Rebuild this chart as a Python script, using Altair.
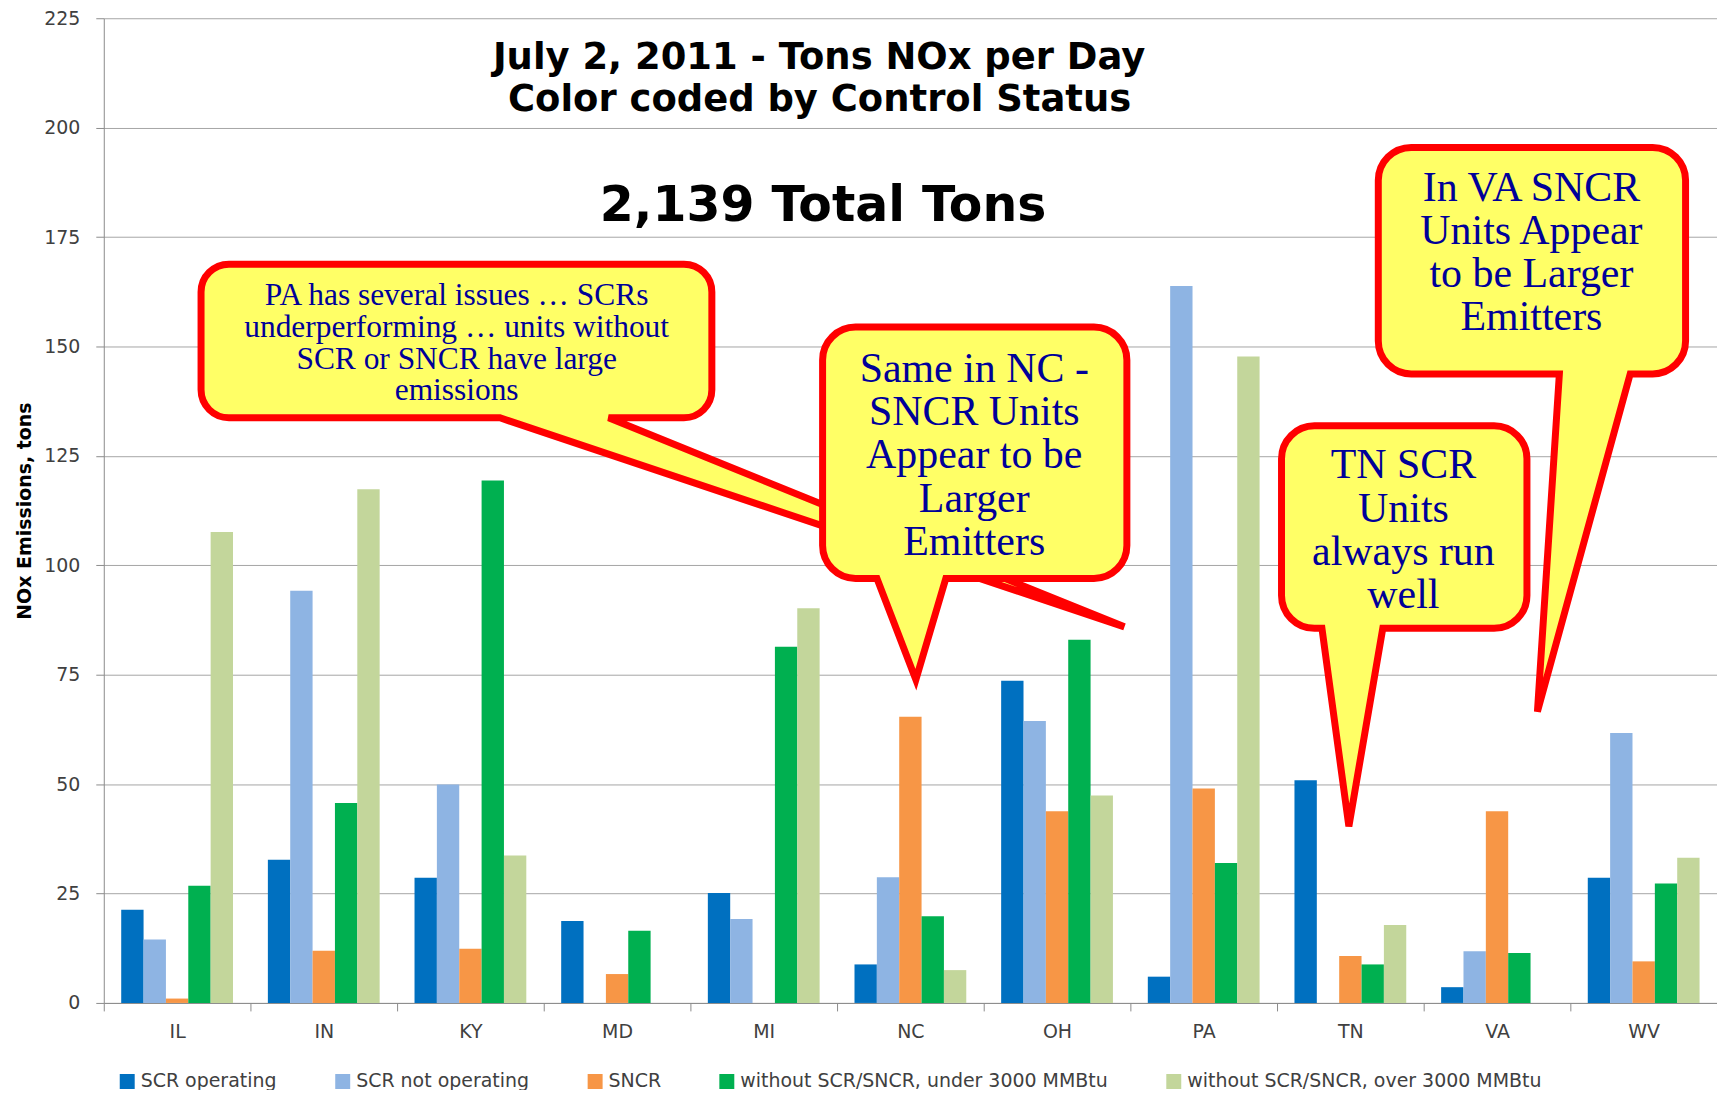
import altair as alt
import pandas as pd

# ---------------- data ----------------
states = ["IL", "IN", "KY", "MD", "MI", "NC", "OH", "PA", "TN", "VA", "WV"]
series = [
    "SCR operating",
    "SCR not operating",
    "SNCR",
    "without SCR/SNCR, under 3000 MMBtu",
    "without SCR/SNCR, over 3000 MMBtu",
]
colors = ["#0070C0", "#8EB4E3", "#F79646", "#00B050", "#C3D69B"]

scr_operating = [21.3, 32.7, 28.6, 18.7, 25.1, 8.8, 73.6, 6.0, 50.9, 3.6, 28.6]
scr_not_operating = [14.5, 94.2, 49.9, None, 19.2, 28.7, 64.4, 163.8, None, 11.8, 61.7]
sncr = [1.0, 11.9, 12.4, 6.6, None, 65.4, 43.8, 49.0, 10.7, 43.8, 9.5]
under_3000 = [26.8, 45.7, 119.4, 16.5, 81.4, 19.8, 83.0, 32.0, 8.8, 11.4, 27.3]
over_3000 = [107.6, 117.4, 33.7, None, 90.2, 7.5, 47.4, 147.7, 17.8, None, 33.2]

y_ticks = [0, 25, 50, 75, 100, 125, 150, 175, 200, 225]

title_lines = [
    "July 2, 2011 - Tons NOx per Day",
    "Color coded by Control Status",
    "2,139 Total Tons",
]

note_pa = ["PA has several issues \u2026 SCRs", "underperforming \u2026 units without",
           "SCR or SNCR have large", "emissions"]
note_nc = ["Same in NC -", "SNCR Units", "Appear to be", "Larger", "Emitters"]
note_tn = ["TN SCR", "Units", "always run", "well"]
note_va = ["In VA SNCR", "Units Appear", "to be Larger", "Emitters"]

# ---------------- table ----------------
rows = []
for s, vals in zip(series, [scr_operating, scr_not_operating, sncr, under_3000, over_3000]):
    for st, v in zip(states, vals):
        if v is not None:
            rows.append({"state": st, "series": s, "value": v})
df = pd.DataFrame(rows)

# ---------------- annotation layout (pixels in plot area) ----------------
def bubble(x0, y0, x1, y1, r, bl, br, tx, ty):
    k = 0.5523 * r
    f = lambda v: f"{v:.1f}"
    parts = [
        f"M {f(x0 + r)} {f(y0)}",
        f"L {f(x1 - r)} {f(y0)}",
        f"C {f(x1 - r + k)} {f(y0)} {f(x1)} {f(y0 + r - k)} {f(x1)} {f(y0 + r)}",
        f"L {f(x1)} {f(y1 - r)}",
        f"C {f(x1)} {f(y1 - r + k)} {f(x1 - r + k)} {f(y1)} {f(x1 - r)} {f(y1)}",
        f"L {f(br)} {f(y1)}",
        f"L {f(tx)} {f(ty)}",
        f"L {f(bl)} {f(y1)}",
        f"L {f(x0 + r)} {f(y1)}",
        f"C {f(x0 + r - k)} {f(y1)} {f(x0)} {f(y1 - r + k)} {f(x0)} {f(y1 - r)}",
        f"L {f(x0)} {f(y0 + r)}",
        f"C {f(x0)} {f(y0 + r - k)} {f(x0 + r - k)} {f(y0)} {f(x0 + r)} {f(y0)}",
        "Z",
    ]
    return " ".join(parts)

TOP = 9  # plot top offset inside the chart
bubbles = pd.DataFrame({
    "id": [0, 1, 2, 3],
    "path": [
        bubble(97.5, 246.5, 609.5, 400.5, 28, 397, 506, 1023, 610),
        bubble(720.5, 309.5, 1025.5, 561.5, 33, 775, 844, 814, 663),
        bubble(1180.5, 408.5, 1426.5, 611.5, 33, 1221, 1282, 1248, 810),
        bubble(1277.5, 129.5, 1585.5, 356.5, 33, 1459, 1530, 1437, 695),
    ],
})

title_df = pd.DataFrame({
    "text": title_lines,
    "px": [717, 717.5, 721],
    "py": [51, 93, 203],
    "fs": [37, 37, 49],
})

note_rows = []
for lines, cx, y0, dy, fs in [
    (note_pa, 353.7, 287.5, 31.8, 31.5),
    (note_nc, 872.5, 364.7, 43.3, 42),
    (note_tn, 1302.7, 461.3, 43.4, 42),
    (note_va, 1431.0, 183.0, 43.3, 42),
]:
    for i, t in enumerate(lines):
        note_rows.append({"text": t, "px": cx, "py": y0 + i * dy, "fs": fs})
notes_df = pd.DataFrame(note_rows)

# ---------------- chart ----------------
AX_FONT = "DejaVu Sans"

bars = alt.Chart(df).mark_bar().encode(
    x=alt.X(
        "state:N",
        sort=states,
        scale=alt.Scale(domain=states, paddingInner=0, paddingOuter=0),
        axis=alt.Axis(
            title=None, labelAngle=0, tickBand="extent", tickSize=8,
            labelPadding=12, labelFont=AX_FONT, labelFontSize=19,
            labelColor="#404040", domainColor="#8C8C8C", tickColor="#8C8C8C",
            grid=False,
        ),
    ),
    xOffset=alt.XOffset(
        "series:N",
        sort=series,
        scale=alt.Scale(domain=series, paddingInner=0, paddingOuter=0.78),
    ),
    y=alt.Y(
        "value:Q",
        scale=alt.Scale(domain=[0, 225], nice=False),
        axis=alt.Axis(
            values=y_ticks, format="d", title="NOx Emissions, tons",
            tickSize=8, labelPadding=16, labelFont=AX_FONT, labelFontSize=19,
            labelColor="#404040", titleFont=AX_FONT, titleFontSize=19,
            titleFontWeight="bold", titleColor="#000000", titlePadding=9,
            domainColor="#8C8C8C", tickColor="#8C8C8C", gridColor="#A6A6A6",
            grid=True,
        ),
    ),
    color=alt.Color(
        "series:N",
        sort=series,
        scale=alt.Scale(domain=series, range=colors),
        legend=alt.Legend(
            title=None, orient="none", legendX=14, legendY=1056,
            direction="horizontal", columns=5, symbolType="square",
            symbolSize=225, symbolStrokeWidth=0, labelFont=AX_FONT,
            labelFontSize=19, labelColor="#404040", columnPadding=56,
            labelOffset=4, padding=0, labelLimit=1000,
        ),
    ),
)

titles = alt.Chart(title_df).mark_text(
    font="DejaVu Sans", fontWeight="bold", color="#000000",
    align="center", baseline="alphabetic",
).encode(
    x=alt.X("px:Q", scale=None, axis=None),
    y=alt.Y("py:Q", scale=None, axis=None),
    text="text:N",
    size=alt.Size("fs:Q", scale=None, legend=None),
)

shapes = alt.Chart(bubbles).mark_point(
    filled=True, fill="#FFFF66", stroke="#FF0000", strokeWidth=7,
    opacity=1, fillOpacity=1, strokeOpacity=1,
    strokeJoin="miter", strokeMiterLimit=4,
).encode(
    x=alt.value(0),
    y=alt.value(0),
    shape=alt.Shape("path:N", scale=None, legend=None),
    size=alt.value(4),
    order=alt.Order("id:Q"),
)

notes = alt.Chart(notes_df).mark_text(
    font="Liberation Serif", color="#000099",
    align="center", baseline="alphabetic",
).encode(
    x=alt.X("px:Q", scale=None, axis=None),
    y=alt.Y("py:Q", scale=None, axis=None),
    text="text:N",
    size=alt.Size("fs:Q", scale=None, legend=None),
)

chart = (
    alt.layer(bars, titles, shapes, notes)
    .resolve_scale(x="independent", y="independent", size="independent", shape="independent")
    .properties(
        width=1617,
        height=987,
        autosize=alt.AutoSizeParams(type="none"),
        padding={"left": 96, "top": TOP, "right": 0, "bottom": 86},
        background="#FFFFFF",
    )
    .configure_view(strokeWidth=0)
)

chart.save("out.html", embed_options={"renderer": "svg", "actions": False})
